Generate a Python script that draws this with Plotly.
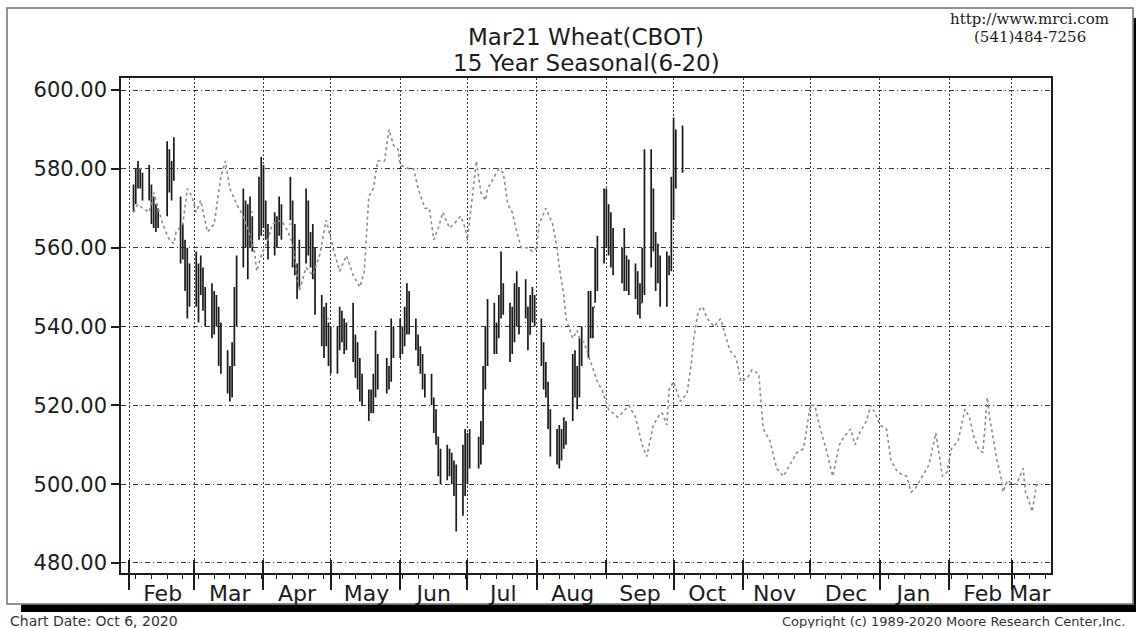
import plotly.graph_objects as go

# ---------------- data: Mar21 Wheat daily bars (2020) ----------------
feb_days = [3, 4, 5, 6, 7, 10, 11, 12, 13, 14, 18, 19, 20, 21, 24, 25, 26, 27, 28]
feb_high = [576, 580, 582, 580, 579, 581, 576, 573, 571, 570, 587, 585, 582, 588, 573, 566, 562, 560, 556]
feb_low = [569, 571, 575, 575, 572, 572, 566, 565, 564, 565, 568, 574, 572, 577, 556, 557, 549, 542, 545]
feb_open = [571, 574, 577, 580, 576, 574, 575, 568, 570, 566, 569, 584, 580, 578, 572, 560, 560, 555, 550]
feb_close = [575, 578, 580, 576, 574, 575, 568, 570, 566, 568, 583, 580, 578, 584, 560, 560, 555, 550, 552]

mar_days = [2, 3, 4, 5, 6, 9, 10, 11, 12, 13, 16, 17, 18, 19, 20, 23, 24, 25, 26, 27, 30, 31]
mar_high = [559, 556, 558, 555, 550, 551, 549, 548, 545, 541, 534, 530, 536, 550, 558, 575, 572, 571, 573, 568, 578, 583]
mar_low = [545, 541, 548, 544, 540, 537, 538, 540, 530, 528, 523, 521, 522, 530, 540, 555, 560, 552, 560, 559, 562, 563]
mar_open = [552, 550, 554, 553, 546, 548, 540, 545, 543, 532, 532, 527, 525, 535, 548, 558, 568, 565, 562, 569, 565, 574]
mar_close = [550, 553, 555, 546, 545, 540, 545, 542, 533, 536, 527, 525, 534, 548, 555, 570, 566, 560, 570, 562, 575, 568]

apr_days = [1, 2, 3, 6, 7, 8, 9, 13, 14, 15, 16, 17, 20, 21, 22, 23, 24, 27, 28, 29, 30]
apr_high = [581, 572, 566, 569, 568, 573, 571, 578, 572, 566, 556, 562, 575, 572, 564, 566, 560, 548, 545, 546, 541]
apr_low = [565, 562, 557, 558, 560, 563, 562, 567, 555, 553, 547, 550, 556, 558, 555, 552, 543, 535, 532, 535, 530]
apr_open = [568, 570, 565, 560, 565, 564, 570, 566, 570, 558, 555, 552, 560, 570, 562, 560, 556, 546, 540, 537, 542]
apr_close = [570, 566, 560, 565, 563, 570, 565, 570, 558, 556, 552, 558, 570, 562, 560, 556, 546, 540, 536, 542, 534]

may_days = [1, 4, 5, 6, 7, 8, 11, 12, 13, 14, 15, 18, 19, 20, 21, 22, 26, 27, 28, 29]
may_high = [540, 540, 545, 544, 542, 541, 546, 538, 536, 532, 528, 524, 524, 528, 539, 533, 532, 530, 542, 540]
may_low = [528, 528, 534, 536, 533, 534, 531, 527, 524, 521, 520, 516, 518, 518, 522, 524, 523, 524, 526, 532]
may_open = [534, 531, 537, 540, 538, 540, 537, 534, 530, 528, 524, 522, 520, 522, 526, 530, 528, 527, 528, 538]
may_close = [532, 538, 540, 538, 540, 536, 535, 530, 528, 524, 523, 520, 522, 526, 530, 528, 527, 528, 538, 535]

jun_days = [1, 2, 3, 4, 5, 8, 9, 10, 11, 12, 15, 16, 17, 18, 19, 22, 23, 24, 25, 26, 29, 30]
jun_high = [542, 540, 545, 551, 549, 542, 538, 535, 533, 528, 528, 522, 519, 512, 509, 510, 509, 508, 506, 505, 510, 514]
jun_low = [532, 533, 535, 538, 538, 534, 530, 528, 524, 522, 520, 513, 510, 502, 500, 501, 502, 500, 497, 488, 492, 497]
jun_open = [535, 536, 538, 541, 547, 539, 536, 532, 530, 526, 524, 520, 516, 512, 505, 504, 506, 505, 502, 500, 494, 508]
jun_close = [536, 538, 541, 548, 540, 536, 532, 530, 526, 525, 522, 516, 512, 505, 504, 506, 505, 502, 500, 495, 508, 512]

jul_days = [1, 2, 6, 7, 8, 9, 10, 13, 14, 15, 16, 17, 20, 21, 22, 23, 24, 27, 28, 29, 30, 31]
jul_high = [513, 514, 512, 516, 530, 540, 547, 546, 541, 548, 559, 551, 546, 545, 551, 554, 550, 552, 545, 548, 550, 548]
jul_low = [500, 504, 504, 505, 510, 524, 530, 533, 533, 537, 542, 543, 531, 533, 536, 540, 538, 542, 534, 538, 541, 540]
jul_open = [511, 509, 506, 510, 512, 526, 531, 540, 538, 539, 545, 550, 545, 535, 540, 545, 548, 541, 544, 538, 544, 546]
jul_close = [510, 508, 510, 512, 526, 530, 540, 538, 538, 545, 552, 546, 534, 540, 545, 548, 541, 545, 538, 544, 546, 544]

aug_days = [3, 4, 5, 6, 7, 10, 11, 12, 13, 14, 17, 18, 19, 20, 21, 24, 25, 26, 27, 28, 31]
aug_high = [542, 536, 531, 526, 519, 514, 515, 514, 517, 516, 533, 534, 530, 537, 540, 549, 549, 545, 560, 563, 575]
aug_low = [530, 524, 522, 514, 507, 505, 504, 506, 509, 510, 516, 522, 519, 522, 530, 532, 537, 537, 546, 549, 556]
aug_open = [540, 533, 528, 524, 518, 510, 510, 508, 512, 514, 518, 530, 525, 524, 535, 538, 545, 541, 545, 556, 560]
aug_close = [534, 528, 525, 518, 510, 510, 508, 512, 514, 513, 530, 525, 523, 535, 537, 545, 541, 543, 556, 560, 570]

sep_days = [1, 2, 3, 4, 8, 9, 10, 11, 14, 15, 16, 17, 18, 21, 22, 23, 24, 25, 28, 29, 30]
sep_high = [575, 571, 569, 565, 560, 565, 558, 557, 556, 554, 551, 560, 585, 585, 575, 564, 561, 558, 559, 558, 578]
sep_low = [560, 558, 555, 553, 551, 549, 549, 548, 547, 543, 542, 546, 548, 555, 559, 549, 551, 545, 545, 553, 554]
sep_open = [570, 565, 562, 558, 555, 553, 556, 552, 552, 550, 547, 546, 556, 560, 570, 560, 552, 555, 550, 556, 556]
sep_close = [566, 562, 558, 556, 554, 553, 552, 552, 550, 547, 545, 556, 558, 570, 562, 552, 555, 552, 555, 556, 572]

oct_days = [1, 2, 5]
oct_high = [593, 590, 591]
oct_low = [567, 575, 579]
oct_open = [572, 585, 581]
oct_close = [585, 580, 588]

# ---------------- data: 15 year seasonal (scaled to price) ----------------
seasonal_dates = [
    "2020-02-03", "2020-02-05", "2020-02-07", "2020-02-10", "2020-02-12", "2020-02-14", "2020-02-16",
    "2020-02-19", "2020-02-21", "2020-02-22", "2020-02-25", "2020-02-27", "2020-02-29",
    "2020-03-02", "2020-03-04", "2020-03-07", "2020-03-10", "2020-03-13", "2020-03-15", "2020-03-17",
    "2020-03-20", "2020-03-22", "2020-03-25", "2020-03-28", "2020-03-29", "2020-03-31",
    "2020-04-03", "2020-04-05", "2020-04-09", "2020-04-12", "2020-04-14", "2020-04-17", "2020-04-20",
    "2020-04-23", "2020-04-26", "2020-04-29",
    "2020-05-02", "2020-05-05", "2020-05-08", "2020-05-11", "2020-05-14", "2020-05-16", "2020-05-18",
    "2020-05-20", "2020-05-22", "2020-05-25", "2020-05-27", "2020-05-29", "2020-05-31",
    "2020-06-01", "2020-06-05", "2020-06-07", "2020-06-09", "2020-06-12", "2020-06-14", "2020-06-16",
    "2020-06-18", "2020-06-20", "2020-06-23", "2020-06-25", "2020-06-28", "2020-06-30",
    "2020-07-01", "2020-07-04", "2020-07-05", "2020-07-07", "2020-07-09", "2020-07-10", "2020-07-13",
    "2020-07-15", "2020-07-17", "2020-07-19", "2020-07-21", "2020-07-23", "2020-07-25", "2020-07-28",
    "2020-07-30",
    "2020-08-01", "2020-08-02", "2020-08-05", "2020-08-08", "2020-08-10", "2020-08-11", "2020-08-13",
    "2020-08-14", "2020-08-17", "2020-08-19", "2020-08-20", "2020-08-22", "2020-08-25", "2020-08-28",
    "2020-08-30",
    "2020-09-02", "2020-09-06", "2020-09-08", "2020-09-11", "2020-09-14", "2020-09-17", "2020-09-19",
    "2020-09-22", "2020-09-25", "2020-09-26", "2020-09-28", "2020-09-29",
    "2020-10-01", "2020-10-04", "2020-10-07", "2020-10-09", "2020-10-10", "2020-10-12", "2020-10-14",
    "2020-10-16", "2020-10-19", "2020-10-22", "2020-10-23", "2020-10-26", "2020-10-29", "2020-10-31",
    "2020-11-03", "2020-11-05", "2020-11-08", "2020-11-10", "2020-11-13", "2020-11-16", "2020-11-19",
    "2020-11-22", "2020-11-25", "2020-11-28",
    "2020-12-01", "2020-12-03", "2020-12-05", "2020-12-08", "2020-12-11", "2020-12-14", "2020-12-16",
    "2020-12-19", "2020-12-21", "2020-12-23", "2020-12-26", "2020-12-28", "2020-12-30",
    "2021-01-01", "2021-01-04", "2021-01-06", "2021-01-09", "2021-01-13", "2021-01-15", "2021-01-17",
    "2021-01-20", "2021-01-23", "2021-01-26", "2021-01-28", "2021-01-29", "2021-01-31",
    "2021-02-02", "2021-02-05", "2021-02-08", "2021-02-10", "2021-02-12", "2021-02-14", "2021-02-16",
    "2021-02-18", "2021-02-19", "2021-02-22", "2021-02-24", "2021-02-25", "2021-02-27",
    "2021-03-01", "2021-03-03", "2021-03-06", "2021-03-07", "2021-03-09", "2021-03-10", "2021-03-12",
]
seasonal_values = [
    569, 571, 570, 569, 574, 570, 566,
    562, 561, 564, 566, 575, 573,
    569, 572, 564, 566, 578, 582, 575,
    571, 569, 565, 559, 554, 558,
    562, 566, 567, 564, 561, 549, 555,
    553, 558, 567,
    560, 554, 558, 553, 550, 554, 573,
    575, 582, 582, 590, 586, 585,
    581, 580, 580, 575, 570, 570, 562,
    565, 569, 565, 566, 568, 565,
    562, 577, 582, 574, 572, 575, 578,
    580, 579, 571, 569, 564, 560, 560,
    559,
    560, 566, 570, 566, 560, 555, 548,
    542, 537, 539, 537, 536, 531, 526,
    524,
    519, 517, 518, 520, 517, 510, 507,
    515, 518, 518, 515, 524,
    526, 521, 523, 531, 537, 544, 545,
    542, 540, 542, 540, 534, 532, 526,
    527, 529, 528, 514, 511, 504, 502,
    505, 508, 509,
    520, 520, 515, 509, 502, 510, 512,
    514, 510, 513, 516, 520, 518,
    515, 514, 506, 503, 502, 498, 499,
    502, 505, 513, 505, 502, 503,
    509, 511, 519, 517, 512, 509, 508,
    522, 517, 507, 502, 498, 501,
    500, 500, 504, 498, 495, 493, 500,
]

# ---------------- axis labels ----------------
y_ticks = [480, 500, 520, 540, 560, 580, 600]
y_tick_text = ["480.00", "500.00", "520.00", "540.00", "560.00", "580.00", "600.00"]
month_starts = ["2020-02-01", "2020-03-01", "2020-04-01", "2020-05-01", "2020-06-01", "2020-07-01",
                "2020-08-01", "2020-09-01", "2020-10-01", "2020-11-01", "2020-12-01", "2021-01-01",
                "2021-02-01", "2021-03-01"]
month_label_dates = ["2020-02-16", "2020-03-17", "2020-04-16", "2020-05-17", "2020-06-16", "2020-07-17",
                     "2020-08-17", "2020-09-16", "2020-10-16", "2020-11-15", "2020-12-17", "2021-01-16",
                     "2021-02-16", "2021-03-09"]
month_labels = ["Feb", "Mar", "Apr", "May", "Jun", "Jul", "Aug", "Sep", "Oct", "Nov", "Dec", "Jan", "Feb", "Mar"]

# ---------------- assemble bar series ----------------
months = [("2020-02", feb_days, feb_open, feb_high, feb_low, feb_close),
          ("2020-03", mar_days, mar_open, mar_high, mar_low, mar_close),
          ("2020-04", apr_days, apr_open, apr_high, apr_low, apr_close),
          ("2020-05", may_days, may_open, may_high, may_low, may_close),
          ("2020-06", jun_days, jun_open, jun_high, jun_low, jun_close),
          ("2020-07", jul_days, jul_open, jul_high, jul_low, jul_close),
          ("2020-08", aug_days, aug_open, aug_high, aug_low, aug_close),
          ("2020-09", sep_days, sep_open, sep_high, sep_low, sep_close),
          ("2020-10", oct_days, oct_open, oct_high, oct_low, oct_close)]
bar_x, bar_o, bar_h, bar_l, bar_c = [], [], [], [], []
for ym, d, o, h, l, c in months:
    bar_x += [f"{ym}-{day:02d}" for day in d]
    bar_o += o
    bar_h += h
    bar_l += l
    bar_c += c

X_RANGE = ["2020-01-28 10:00", "2021-03-18 10:00"]
Y_RANGE = [477.46, 603.05]
FONT = "DejaVu Sans"
INK = "#1c1c1c"

fig = go.Figure()
fig.add_trace(go.Scatter(
    x=seasonal_dates, y=seasonal_values, mode="lines",
    line=dict(color="#8e8e8e", width=1.6, dash="dot"),
    hoverinfo="skip", showlegend=False))
fig.add_trace(go.Ohlc(
    x=bar_x, open=bar_o, high=bar_h, low=bar_l, close=bar_c,
    increasing=dict(line=dict(color="#1a1a1a", width=1.7)),
    decreasing=dict(line=dict(color="#1a1a1a", width=1.7)),
    tickwidth=0.35, showlegend=False, hoverinfo="skip"))
# helper trace so the label axis is drawn
fig.add_trace(go.Scatter(x=X_RANGE, y=[None, None], xaxis="x2", mode="lines",
                         showlegend=False, hoverinfo="skip"))

fig.update_layout(
    width=1136, height=628,
    margin=dict(l=121, r=85, t=78, b=55),
    paper_bgcolor="white", plot_bgcolor="white",
    showlegend=False, hovermode=False,
    xaxis=dict(
        type="date", range=X_RANGE, rangeslider=dict(visible=False),
        tickmode="array", tickvals=month_starts, ticktext=[""] * len(month_starts),
        showticklabels=False,
        ticks="outside", ticklen=15, tickwidth=1.5, tickcolor=INK,
        showgrid=True, gridcolor="#3a3a3a", gridwidth=1, griddash="2px,2px",
        showline=True, linecolor=INK, linewidth=1.5, mirror=True,
        minor=dict(tickmode="linear", tick0="2020-02-04", dtick=7 * 86400000,
                   ticks="outside", ticklen=4, tickwidth=1, tickcolor=INK, showgrid=False),
        zeroline=False, fixedrange=True,
    ),
    xaxis2=dict(
        type="date", range=X_RANGE, overlaying="x", anchor="y", side="bottom",
        tickmode="array", tickvals=month_label_dates, ticktext=month_labels,
        ticks="", showgrid=False, showline=False, zeroline=False,
        tickfont=dict(family=FONT, size=22, color=INK),
        ticklabelstandoff=5,
        minor=dict(tickmode="array", tickvals=month_starts, ticks="inside", ticklen=13,
                   tickwidth=1.5, tickcolor=INK, showgrid=False),
        fixedrange=True,
    ),
    yaxis=dict(
        range=Y_RANGE, tickmode="array", tickvals=y_ticks, ticktext=y_tick_text,
        ticks="outside", ticklen=8, tickwidth=1.5, tickcolor=INK,
        tickfont=dict(family=FONT, size=21, color=INK),
        showgrid=True, gridcolor="#3a3a3a", gridwidth=1, griddash="5px,3px,1px,3px",
        showline=True, linecolor=INK, linewidth=1.5, mirror=True,
        zeroline=False, fixedrange=True,
    ),
)

# outer frame and drop shadow (paper units; plot area is 930 x 495 px)
fig.add_shape(type="rect", xref="paper", yref="paper", x0=-0.1226, x1=1.0882, y0=-0.0626, y1=1.1414,
              line=dict(color="#6e6e6e", width=1.5), fillcolor="rgba(0,0,0,0)", layer="below")
fig.add_shape(type="rect", xref="paper", yref="paper", x0=-0.1075, x1=1.0925, y0=-0.0788, y1=-0.0640,
              line=dict(width=0), fillcolor="black")
fig.add_shape(type="rect", xref="paper", yref="paper", x0=1.0890, x1=1.0925, y0=-0.0788, y1=1.1212,
              line=dict(width=0), fillcolor="black")

ann = dict(xref="paper", yref="paper", showarrow=False)
fig.add_annotation(text="Mar21 Wheat(CBOT)", x=0.5, y=1.0838, xanchor="center", yanchor="middle",
                   font=dict(family=FONT, size=23, color=INK), **ann)
fig.add_annotation(text="15 Year Seasonal(6-20)", x=0.5, y=1.0293, xanchor="center", yanchor="middle",
                   font=dict(family=FONT, size=23, color=INK), **ann)
fig.add_annotation(text="http://www.mrci.com", x=0.9774, y=1.1192, xanchor="center", yanchor="middle",
                   font=dict(family="DejaVu Serif", size=15, color=INK), **ann)
fig.add_annotation(text="(541)484-7256", x=0.9774, y=1.0828, xanchor="center", yanchor="middle",
                   font=dict(family="DejaVu Serif", size=15, color=INK), **ann)
fig.add_annotation(text="Chart Date: Oct 6, 2020", x=-0.1215, y=-0.097, xanchor="left", yanchor="middle",
                   font=dict(family=FONT, size=14, color="#333333"), **ann)
fig.add_annotation(text="Copyright (c) 1989-2020 Moore Research Center,Inc.", x=1.0817, y=-0.097,
                   xanchor="right", yanchor="middle",
                   font=dict(family=FONT, size=13, color="#333333"), **ann)

fig.write_html("out.html", config={"displayModeBar": False},
               post_script="document.body.style.margin='0px';")
